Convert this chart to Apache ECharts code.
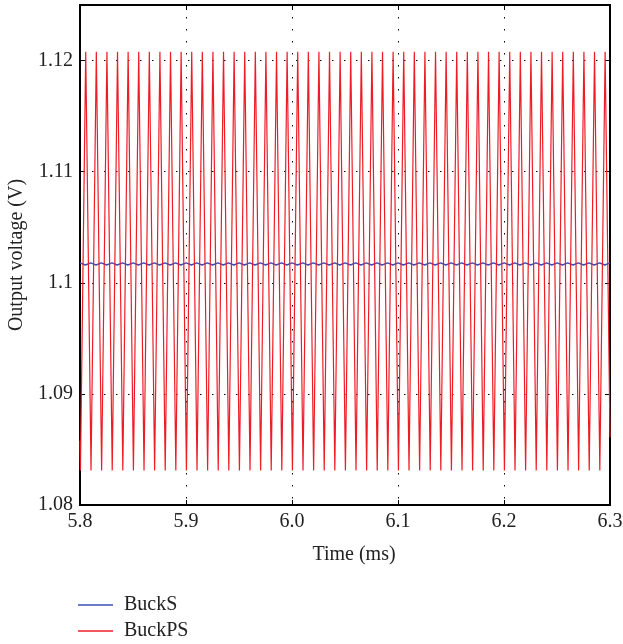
<!DOCTYPE html>
<html>
<head>
<meta charset="utf-8">
<script src="https://cdn.jsdelivr.net/npm/echarts@6/dist/echarts.min.js"></script>
<style>
html,body{margin:0;padding:0;background:#fff;}
#chart{width:623px;height:644px;}
</style>
</head>
<body>
<div id="chart"></div>
<script>
// ---- data ----
var xTicks = [5.8, 5.9, 6.0, 6.1, 6.2, 6.3];
var yTicks = [1.08, 1.09, 1.1, 1.11, 1.12];
var seriesNames = ['BuckS', 'BuckPS'];

var blueTime = [5.8,
5.8051,5.8101,5.8151,5.8201,5.8251,5.8301,5.8351,5.8401,5.8451,5.8501,
5.8551,5.8601,5.8651,5.8701,5.8751,5.8801,5.8851,5.8901,5.8951,5.9001,
5.9051,5.9101,5.9151,5.9201,5.9251,5.9301,5.9351,5.9401,5.9451,5.9501,
5.9551,5.9601,5.9651,5.9701,5.9751,5.9801,5.9851,5.9901,5.9951,6.0001,
6.0051,6.0101,6.0151,6.0201,6.0251,6.0301,6.0351,6.0401,6.0451,6.0501,
6.0551,6.0601,6.0651,6.0701,6.0751,6.0801,6.0851,6.0901,6.0951,6.1001,
6.1051,6.1101,6.1151,6.1201,6.1251,6.1301,6.1351,6.1401,6.1451,6.1501,
6.1551,6.1601,6.1651,6.1701,6.1751,6.1801,6.1851,6.1901,6.1951,6.2001,
6.2051,6.2101,6.2151,6.2201,6.2251,6.2301,6.2351,6.2401,6.2451,6.2501,
6.2551,6.2601,6.2651,6.2701,6.2751,6.2801,6.2851,6.2901,6.2951,
6.3];
var blueVolt = [1.1018,
1.1016,1.1018,1.1016,1.1018,1.1016,1.1018,1.1016,1.1018,1.1016,1.1018,
1.1016,1.1018,1.1016,1.1018,1.1016,1.1018,1.1016,1.1018,1.1016,1.1018,
1.1016,1.1018,1.1016,1.1018,1.1016,1.1018,1.1016,1.1018,1.1016,1.1018,
1.1016,1.1018,1.1016,1.1018,1.1016,1.1018,1.1016,1.1018,1.1016,1.1018,
1.1016,1.1018,1.1016,1.1018,1.1016,1.1018,1.1016,1.1018,1.1016,1.1018,
1.1016,1.1018,1.1016,1.1018,1.1016,1.1018,1.1016,1.1018,1.1016,1.1018,
1.1016,1.1018,1.1016,1.1018,1.1016,1.1018,1.1016,1.1018,1.1016,1.1018,
1.1016,1.1018,1.1016,1.1018,1.1016,1.1018,1.1016,1.1018,1.1016,1.1018,
1.1016,1.1018,1.1016,1.1018,1.1016,1.1018,1.1016,1.1018,1.1016,1.1018,
1.1016,1.1018,1.1016,1.1018,1.1016,1.1018,1.1016,1.1018,1.1016,
1.1018];

var redTime = [5.8,
5.8004,5.8054,5.8104,5.8154,5.8204,5.8254,5.8304,5.8354,5.8404,5.8454,
5.8504,5.8554,5.8604,5.8654,5.8704,5.8754,5.8804,5.8854,5.8904,5.8954,
5.9004,5.9054,5.9104,5.9154,5.9204,5.9254,5.9304,5.9354,5.9404,5.9454,
5.9504,5.9554,5.9604,5.9654,5.9704,5.9754,5.9804,5.9854,5.9904,5.9954,
6.0004,6.0054,6.0104,6.0154,6.0204,6.0254,6.0304,6.0354,6.0404,6.0454,
6.0504,6.0554,6.0604,6.0654,6.0704,6.0754,6.0804,6.0854,6.0904,6.0954,
6.1004,6.1054,6.1104,6.1154,6.1204,6.1254,6.1304,6.1354,6.1404,6.1454,
6.1504,6.1554,6.1604,6.1654,6.1704,6.1754,6.1804,6.1854,6.1904,6.1954,
6.2004,6.2054,6.2104,6.2154,6.2204,6.2254,6.2304,6.2354,6.2404,6.2454,
6.2504,6.2554,6.2604,6.2654,6.2704,6.2754,6.2804,6.2854,6.2904,6.2954,
6.3];
var redVolt = [1.0858,
1.0831,1.1208,1.0831,1.1208,1.0831,1.1208,1.0831,1.1208,1.0831,1.1208,
1.0831,1.1208,1.0831,1.1208,1.0831,1.1208,1.0831,1.1208,1.0831,1.1208,
1.0831,1.1208,1.0831,1.1208,1.0831,1.1208,1.0831,1.1208,1.0831,1.1208,
1.0831,1.1208,1.0831,1.1208,1.0831,1.1208,1.0831,1.1208,1.0831,1.1208,
1.0831,1.1208,1.0831,1.1208,1.0831,1.1208,1.0831,1.1208,1.0831,1.1208,
1.0831,1.1208,1.0831,1.1208,1.0831,1.1208,1.0831,1.1208,1.0831,1.1208,
1.0831,1.1208,1.0831,1.1208,1.0831,1.1208,1.0831,1.1208,1.0831,1.1208,
1.0831,1.1208,1.0831,1.1208,1.0831,1.1208,1.0831,1.1208,1.0831,1.1208,
1.0831,1.1208,1.0831,1.1208,1.0831,1.1208,1.0831,1.1208,1.0831,1.1208,
1.0831,1.1208,1.0831,1.1208,1.0831,1.1208,1.0831,1.1208,1.0831,1.1208,
1.0861];

// ---- build ----
function zip(a, b) { var o = []; for (var i = 0; i < a.length; i++) o.push([a[i], b[i]]); return o; }
var FONT = 'Liberation Serif';
var textCol = '#222';
var chart = echarts.init(document.getElementById('chart'), null, {renderer: 'canvas'});

var dotted = {color: '#000', width: 1, type: [1.5, 10.5]};
var tick = {show: true, inside: true, length: 5, lineStyle: {color: '#000', width: 1}};

var option = {
  animation: false,
  backgroundColor: '#fff',
  grid: {left: 80, right: 13, top: 5, bottom: 139, containLabel: false, outerBoundsMode: 'none',
    show: true, borderColor: '#000', borderWidth: 2, backgroundColor: 'transparent'},
  legend: {
    orient: 'vertical', left: 73, top: 590, height: 60, itemWidth: 35, itemHeight: 1.5, itemGap: 6,
    icon: 'rect',
    data: seriesNames,
    textStyle: {fontFamily: FONT, fontSize: 20, color: textCol, padding: [0, 0, 0, 6]}
  },
  xAxis: [{
    type: 'value', min: xTicks[0], max: xTicks[xTicks.length - 1], interval: 0.1,
    name: 'Time (ms)', nameLocation: 'middle', nameGap: 40,
    nameTextStyle: {fontFamily: FONT, fontSize: 20, color: textCol, padding: [0, 0, 0, 18]},
    axisLine: {show: false},
    axisTick: tick,
    axisLabel: {fontFamily: FONT, fontSize: 20, color: textCol, margin: 7, formatter: function (v) { return v.toFixed(1); }},
    splitLine: {show: true, lineStyle: dotted}
  }, {
    type: 'value', position: 'top', min: xTicks[0], max: xTicks[xTicks.length - 1], interval: 0.1,
    axisLine: {show: false}, axisTick: tick, axisLabel: {show: false}, splitLine: {show: false}
  }],
  yAxis: [{
    type: 'value', min: yTicks[0], max: 1.125, interval: 0.01,
    name: 'Output voltage (V)', nameLocation: 'middle', nameGap: 53,
    nameTextStyle: {fontFamily: FONT, fontSize: 20, color: textCol},
    axisLine: {show: false},
    axisTick: tick,
    axisLabel: {fontFamily: FONT, fontSize: 20, color: textCol, margin: 7, showMaxLabel: false,
      formatter: function (v) { return String(parseFloat(v.toFixed(3))); }},
    splitLine: {show: true, lineStyle: dotted}
  }, {
    type: 'value', position: 'right', min: yTicks[0], max: 1.125, interval: 0.01,
    axisLine: {show: false}, axisTick: tick, axisLabel: {show: false}, splitLine: {show: false}
  }],
  series: [{
    name: seriesNames[0], type: 'line', symbol: 'none', xAxisIndex: 0, yAxisIndex: 0,
    lineStyle: {color: '#3a4fb8', width: 1.4}, itemStyle: {color: '#3a4fb8'},
    data: zip(blueTime, blueVolt)
  }, {
    name: seriesNames[1], type: 'line', symbol: 'none', xAxisIndex: 0, yAxisIndex: 0,
    lineStyle: {color: '#ee1c25', width: 1.2}, itemStyle: {color: '#ee1c25'},
    data: zip(redTime, redVolt)
  }]
};
chart.setOption(option);
</script>
</body>
</html>
